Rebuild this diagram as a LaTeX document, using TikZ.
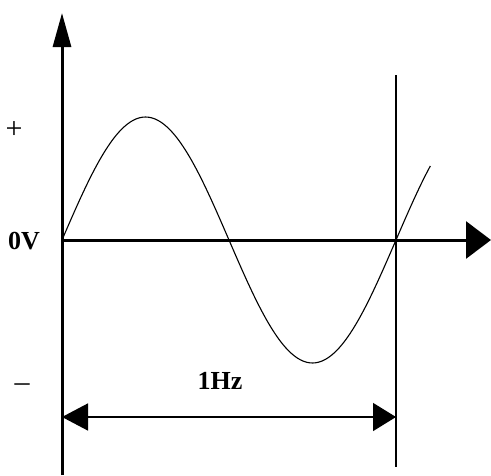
\documentclass[tikz,border=0pt]{standalone}
\usepackage{fontspec}
\setmainfont{Liberation Serif}
\usetikzlibrary{arrows.meta}
\begin{document}
\begin{tikzpicture}[x=1pt,y=-1pt,
  axis/.style={line width=3pt},
  lbl/.style={font=\fontsize{26}{26}\selectfont\bfseries, inner sep=0pt},
  sym/.style={font=\fontsize{30}{30}\selectfont, inner sep=0pt},
  wave/.style={line width=1.1pt}]
\useasboundingbox (0,0) rectangle (491,475);
\coordinate (o) at (62,240);
\coordinate (ybot) at (62,475);
\coordinate (ytop) at (62,13);
\coordinate (xend) at (491,240);
\coordinate (vtop) at (396,75);
\coordinate (vbot) at (396,467);
\coordinate (dl) at (62,417);
\coordinate (dr) at (396,417);
% axes
\draw[axis,-{Triangle[length=34pt,width=18pt]}] (ybot) -- (ytop);
\draw[axis,-{Triangle[length=25pt,width=37pt]}] (o) -- (xend);
% vertical marker line
\draw[line width=1.4pt] (vtop) -- (vbot);
% sine wave
\draw[wave] plot[domain=0:397,samples=120,smooth] ({62+\x*0.927778},{240-123*sin(\x)});
% double arrow
\draw[line width=1.5pt,{Triangle[length=26pt,width=27pt]}-{Triangle[length=23pt,width=28pt]}] (dl) -- (dr);
% labels
\node[sym] (plus) at (14,130) {+};
\node[lbl] (zero) at (24,241) {0V};
\node[sym] (minus) at (22,388) {--};
\node[lbl] (freq) at (220,381) {1Hz};
\end{tikzpicture}
\end{document}
